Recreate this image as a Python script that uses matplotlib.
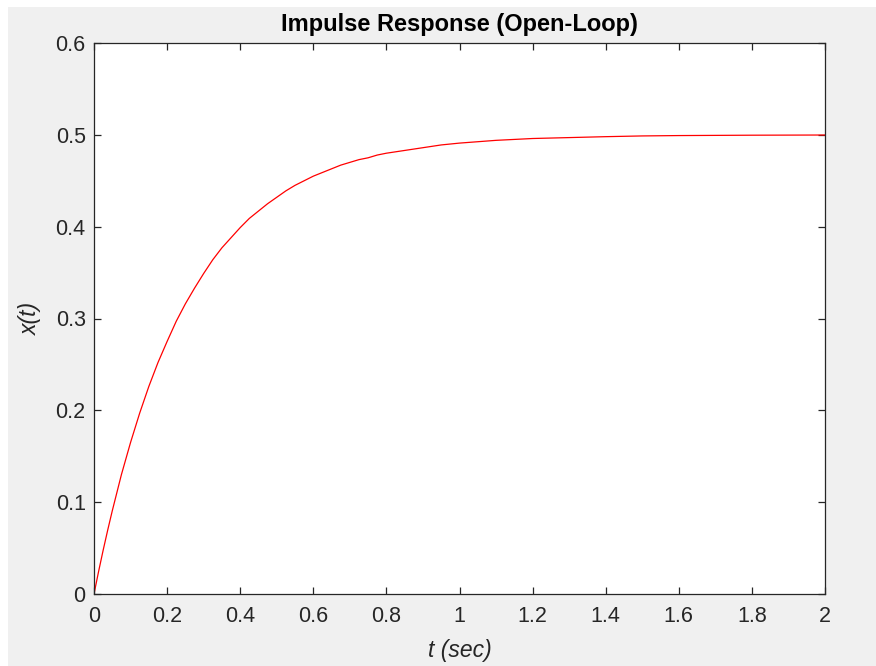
import matplotlib
matplotlib.use("Agg")
import matplotlib.pyplot as plt
from matplotlib.patches import Rectangle

# Data
t_sec = [0.0, 0.0125, 0.025, 0.0375, 0.05, 0.075, 0.1, 0.125, 0.15, 0.175, 0.2,
         0.225, 0.25, 0.275, 0.3, 0.325, 0.35, 0.375, 0.4, 0.425, 0.45, 0.475,
         0.5, 0.525, 0.55, 0.575, 0.6, 0.625, 0.65, 0.675, 0.7, 0.725, 0.75,
         0.775, 0.8, 0.85, 0.9, 0.95, 1.0, 1.05, 1.1, 1.15, 1.2, 1.3, 1.4, 1.5,
         1.6, 1.8, 2.0]
x_vals = [0.0, 0.0244, 0.0476, 0.0696, 0.0906, 0.130, 0.165, 0.197, 0.226, 0.252,
          0.275, 0.297, 0.316, 0.333, 0.349, 0.364, 0.377, 0.388, 0.399, 0.409,
          0.417, 0.425, 0.432, 0.439, 0.445, 0.450, 0.455, 0.459, 0.463, 0.467,
          0.470, 0.473, 0.475, 0.478, 0.480, 0.483, 0.486, 0.489, 0.491, 0.4925,
          0.494, 0.495, 0.496, 0.497, 0.498, 0.4988, 0.4992, 0.4996, 0.4998]

x_ticks = [0, 0.2, 0.4, 0.6, 0.8, 1, 1.2, 1.4, 1.6, 1.8, 2]
x_tick_labels = ["0", "0.2", "0.4", "0.6", "0.8", "1", "1.2", "1.4", "1.6", "1.8", "2"]
y_ticks = [0, 0.1, 0.2, 0.3, 0.4, 0.5, 0.6]
y_tick_labels = ["0", "0.1", "0.2", "0.3", "0.4", "0.5", "0.6"]

plt.rcParams['font.family'] = ['Liberation Sans', 'DejaVu Sans']

W, H = 876, 666
fig = plt.figure(figsize=(W / 100, H / 100), dpi=100)
fig.patch.set_facecolor('#f0f0f0')
# white margins at top and left
fig.patches.append(Rectangle((0, 1 - 7 / H), 1, 7 / H, transform=fig.transFigure,
                             facecolor='white', edgecolor='none', zorder=-1))
fig.patches.append(Rectangle((0, 0), 8 / W, 1, transform=fig.transFigure,
                             facecolor='white', edgecolor='none', zorder=-1))

left, right, top, bottom = 94, 825, 43, 594
ax = fig.add_axes([left / W, 1 - bottom / H, (right - left) / W, (bottom - top) / H])
ax.set_facecolor('white')

ax.plot(t_sec, x_vals, color='red', linewidth=0.9)

ax.set_xlim(0, 2)
ax.set_ylim(0, 0.6)
ax.set_xticks(x_ticks)
ax.set_xticklabels(x_tick_labels)
ax.set_yticks(y_ticks)
ax.set_yticklabels(y_tick_labels)

axc = '#262626'
for s in ax.spines.values():
    s.set_color(axc)
    s.set_linewidth(0.9)
ax.tick_params(direction='in', length=5, width=0.9, colors=axc, labelsize=15.5,
               top=True, right=True)
ax.tick_params(axis='x', pad=9)
ax.tick_params(axis='y', pad=6)

ax.set_xlabel('t (sec)', fontsize=16.5, style='italic', color=axc, labelpad=8)
ax.set_ylabel('x(t)', fontsize=16.5, style='italic', color=axc, labelpad=10)
ax.set_title('Impulse Response (Open-Loop)', fontsize=17, fontweight='bold',
             color='black', pad=9)

fig.savefig('out.png', dpi=100, facecolor=fig.get_facecolor())
